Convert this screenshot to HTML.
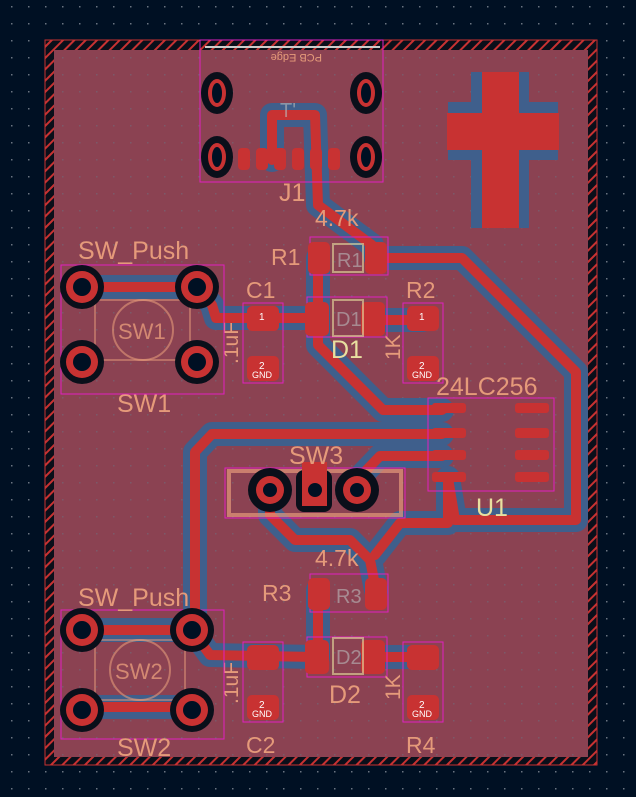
<!DOCTYPE html>
<html><head><meta charset="utf-8"><style>
html,body{margin:0;padding:0;background:#001023;}
svg{display:block}
text{font-family:"Liberation Sans",sans-serif;}
</style></head><body>
<svg width="636" height="797" viewBox="0 0 636 797" xmlns="http://www.w3.org/2000/svg">
<defs>
<pattern id="dots" width="17" height="17" patternUnits="userSpaceOnUse" x="11" y="6">
<rect x="0" y="0" width="1.5" height="1.5" fill="#6a7380"/>
</pattern>
<pattern id="hatch" width="8" height="8" patternUnits="userSpaceOnUse" patternTransform="rotate(45)">
<rect width="8" height="8" fill="#0a0f1a"/><rect width="2" height="8" fill="#c83232"/>
</pattern>
</defs>
<rect width="636" height="797" fill="#001023"/>
<rect width="636" height="797" fill="url(#dots)"/>
<rect x="45" y="40" width="552" height="725" fill="url(#hatch)" stroke="#c83232" stroke-width="1"/>
<rect x="54" y="50" width="534" height="707" fill="#8b4252"/>
<rect x="54" y="50" width="534" height="707" fill="url(#dots)" opacity="0.5"/>

<g fill="none" stroke="#3f5f8c" stroke-width="24" stroke-linejoin="round" stroke-linecap="round">
<path d="M272,160 L272,115 L315,115 L318,205 L372,245 L376,258"/>
<path d="M376,258 L462,258 L576,372 L576,520 L455,520 L448,478"/>
<path d="M318,258 L318,345 L383,410 L442,410"/>
<path d="M197,287 L212,305 L216,318 L316,318"/>
<path d="M82,287 L197,287"/>
<path d="M373,320 L422,320"/>
<path d="M442,434 L212,434 L195,452 L195,628"/>
<path d="M442,456 L380,456 L357,480 L357,490"/>
<path d="M270,490 L270,515 L295,540 L350,540 L370,560 L376,590"/>
<path d="M448,478 L448,523 L400,523 L375,555"/>
<path d="M318,590 L318,657"/>
<path d="M192,630 L210,655 L316,657"/>
<path d="M82,630 L192,630"/>
<path d="M372,657 L420,657"/>
<path d="M82,707 L192,707"/>
<path d="M500,72 L500,228 M448,131 L558,131" stroke-width="58" stroke-linecap="butt"/>
</g>
<g fill="none" stroke="#c83232" stroke-width="10" stroke-linejoin="round" stroke-linecap="round">
<path d="M272,160 L272,115 L315,115 L318,205 L372,245 L376,258"/>
<path d="M376,258 L462,258 L576,372 L576,520 L455,520 L448,478"/>
<path d="M318,258 L318,345 L383,410 L442,410"/>
<path d="M197,287 L212,305 L216,318 L316,318"/>
<path d="M82,287 L197,287"/>
<path d="M373,320 L422,320"/>
<path d="M442,434 L212,434 L195,452 L195,628"/>
<path d="M442,456 L380,456 L357,480 L357,490"/>
<path d="M270,490 L270,515 L295,540 L350,540 L370,560 L376,590"/>
<path d="M448,478 L448,523 L400,523 L375,555"/>
<path d="M318,590 L318,657"/>
<path d="M192,630 L210,655 L316,657"/>
<path d="M82,630 L192,630"/>
<path d="M372,657 L420,657"/>
<path d="M82,707 L192,707"/>
</g>
<path d="M482,72 h37 v41 h40 v37 h-40 v78 h-37 v-78 h-35 v-37 h35z" fill="#c83232"/>

<!-- J1 -->
<rect x="200" y="40" width="183" height="142" fill="none" stroke="#e020c0" stroke-width="1"/>
<line x1="205" y1="47" x2="380" y2="47" stroke="#ccc" stroke-width="2"/>
<text x="262" y="62" font-size="11" fill="#e59a7a" transform="rotate(180 292 58)">PCB Edge</text>
<g>
<ellipse cx="217" cy="93" rx="16" ry="21" fill="#0a0f1a"/><ellipse cx="217" cy="93" rx="9" ry="14" fill="#c83232"/><ellipse cx="217" cy="93" rx="5" ry="10" fill="#001023"/>
<ellipse cx="217" cy="157" rx="16" ry="21" fill="#0a0f1a"/><ellipse cx="217" cy="157" rx="9" ry="14" fill="#c83232"/><ellipse cx="217" cy="157" rx="5" ry="10" fill="#001023"/>
<ellipse cx="366" cy="93" rx="16" ry="21" fill="#0a0f1a"/><ellipse cx="366" cy="93" rx="9" ry="14" fill="#c83232"/><ellipse cx="366" cy="93" rx="5" ry="10" fill="#001023"/>
<ellipse cx="366" cy="157" rx="16" ry="21" fill="#0a0f1a"/><ellipse cx="366" cy="157" rx="9" ry="14" fill="#c83232"/><ellipse cx="366" cy="157" rx="5" ry="10" fill="#001023"/>
</g>
<g fill="#c83232">
<rect x="238" y="148" width="12" height="22" rx="4"/><rect x="256" y="148" width="12" height="22" rx="4"/><rect x="274" y="148" width="12" height="22" rx="4"/><rect x="292" y="148" width="12" height="22" rx="4"/><rect x="310" y="148" width="12" height="22" rx="4"/><rect x="328" y="148" width="12" height="22" rx="4"/>
</g>
<text x="279" y="201" font-size="25" fill="#e59a7a">J1</text>
<text x="280" y="117" font-size="20" fill="#bbb" opacity="0.6">T'</text>

<!-- R1 -->
<rect x="310" y="237" width="78" height="38" fill="none" stroke="#e020c0"/>
<rect x="308" y="242" width="22" height="32" rx="5" fill="#c83232"/><rect x="365" y="242" width="22" height="32" rx="5" fill="#c83232"/>
<rect x="333" y="244" width="30" height="28" fill="none" stroke="#e8e0a0" stroke-width="2" opacity="0.6"/>
<text x="337" y="267" font-size="20" fill="#bbb" opacity="0.6">R1</text>
<text x="271" y="265" font-size="23" fill="#e59a7a">R1</text>
<text x="315" y="226" font-size="23" fill="#e59a7a">4.7k</text>
<!-- D1 -->
<rect x="307" y="297" width="80" height="40" fill="none" stroke="#e020c0"/>
<rect x="305" y="302" width="24" height="34" rx="5" fill="#c83232"/><rect x="361" y="302" width="24" height="34" rx="5" fill="#c83232"/>
<rect x="333" y="300" width="30" height="36" fill="none" stroke="#e8e0a0" stroke-width="2" opacity="0.6"/>
<text x="336" y="326" font-size="20" fill="#bbb" opacity="0.6">D1</text>
<text x="331" y="358" font-size="25" fill="#e8e0a0">D1</text>
<!-- C1 -->
<rect x="243" y="303" width="40" height="80" fill="none" stroke="#e020c0"/>
<rect x="247" y="306" width="32" height="25" rx="5" fill="#c83232"/><rect x="247" y="356" width="32" height="25" rx="5" fill="#c83232"/>
<text x="259" y="320" font-size="10" fill="#fff">1</text><text x="259" y="369" font-size="10" fill="#fff">2</text><text x="252" y="378" font-size="9" fill="#fff">GND</text>
<text x="246" y="298" font-size="23" fill="#e59a7a">C1</text>
<text x="238" y="364" font-size="21" fill="#e59a7a" transform="rotate(-90 238 364)">.1uF</text>
<!-- R2 -->
<rect x="403" y="303" width="40" height="80" fill="none" stroke="#e020c0"/>
<rect x="407" y="306" width="32" height="25" rx="5" fill="#c83232"/><rect x="407" y="356" width="32" height="25" rx="5" fill="#c83232"/>
<text x="419" y="320" font-size="10" fill="#fff">1</text><text x="419" y="369" font-size="10" fill="#fff">2</text><text x="412" y="378" font-size="9" fill="#fff">GND</text>
<text x="406" y="298" font-size="23" fill="#e59a7a">R2</text>
<text x="400" y="360" font-size="21" fill="#e59a7a" transform="rotate(-90 400 360)">1K</text>

<!-- SW1 -->
<rect x="61" y="265" width="163" height="129" fill="none" stroke="#e020c0"/>
<circle cx="143" cy="330" r="30" fill="none" stroke="#e59a7a" stroke-width="2" opacity="0.6"/>
<rect x="95" y="300" width="95" height="60" fill="none" stroke="#e59a7a" stroke-width="2" opacity="0.5"/>
<text x="118" y="339" font-size="22" fill="#e59a7a" opacity="0.8">SW1</text>
<g>
<circle cx="82" cy="287" r="22" fill="#0a0f1a"/><circle cx="82" cy="287" r="16" fill="#c83232"/><circle cx="82" cy="287" r="9" fill="#001023"/>
<circle cx="197" cy="287" r="22" fill="#0a0f1a"/><circle cx="197" cy="287" r="16" fill="#c83232"/><circle cx="197" cy="287" r="9" fill="#001023"/>
<circle cx="82" cy="362" r="22" fill="#0a0f1a"/><circle cx="82" cy="362" r="16" fill="#c83232"/><circle cx="82" cy="362" r="9" fill="#001023"/>
<circle cx="197" cy="362" r="22" fill="#0a0f1a"/><circle cx="197" cy="362" r="16" fill="#c83232"/><circle cx="197" cy="362" r="9" fill="#001023"/>
</g>
<text x="78" y="259" font-size="25" fill="#e59a7a">SW_Push</text>
<text x="117" y="412" font-size="25" fill="#e59a7a">SW1</text>

<!-- U1 -->
<rect x="428" y="398" width="126" height="93" fill="none" stroke="#e020c0"/>
<text x="436" y="395" font-size="25" fill="#e59a7a">24LC256</text>
<g fill="#c83232">
<rect x="432" y="403" width="34" height="10" rx="3"/><rect x="432" y="428" width="34" height="10" rx="3"/><rect x="432" y="450" width="34" height="10" rx="3"/><rect x="432" y="472" width="34" height="10" rx="3"/>
<rect x="515" y="403" width="34" height="10" rx="3"/><rect x="515" y="428" width="34" height="10" rx="3"/><rect x="515" y="450" width="34" height="10" rx="3"/><rect x="515" y="472" width="34" height="10" rx="3"/>
</g>
<text x="476" y="516" font-size="25" fill="#e8e0a0">U1</text>

<!-- SW3 -->
<rect x="225" y="468" width="180" height="50" fill="none" stroke="#e020c0"/>
<rect x="229" y="471" width="172" height="44" fill="none" stroke="#e59a7a" stroke-width="4" opacity="0.7"/>
<circle cx="270" cy="490" r="22" fill="#0a0f1a"/><circle cx="270" cy="490" r="14" fill="#c83232"/><circle cx="270" cy="490" r="7" fill="#001023"/>
<rect x="296" y="470" width="36" height="42" rx="8" fill="#0a0f1a"/><rect x="302" y="462" width="25" height="44" fill="#c83232"/><circle cx="315" cy="490" r="7" fill="#001023"/>
<circle cx="357" cy="490" r="22" fill="#0a0f1a"/><circle cx="357" cy="490" r="14" fill="#c83232"/><circle cx="357" cy="490" r="7" fill="#001023"/>
<text x="289" y="464" font-size="25" fill="#e59a7a">SW3</text>

<!-- R3 -->
<rect x="310" y="574" width="78" height="38" fill="none" stroke="#e020c0"/>
<rect x="308" y="578" width="22" height="32" rx="5" fill="#c83232"/><rect x="365" y="578" width="22" height="32" rx="5" fill="#c83232"/>
<text x="336" y="603" font-size="20" fill="#bbb" opacity="0.6">R3</text>
<text x="262" y="601" font-size="23" fill="#e59a7a">R3</text>
<text x="315" y="566" font-size="23" fill="#e59a7a">4.7k</text>
<!-- D2 -->
<rect x="307" y="637" width="80" height="40" fill="none" stroke="#e020c0"/>
<rect x="305" y="640" width="24" height="34" rx="5" fill="#c83232"/><rect x="361" y="640" width="24" height="34" rx="5" fill="#c83232"/>
<rect x="333" y="638" width="30" height="36" fill="none" stroke="#e8e0a0" stroke-width="2" opacity="0.6"/>
<text x="336" y="664" font-size="20" fill="#bbb" opacity="0.6">D2</text>
<text x="329" y="703" font-size="25" fill="#e59a7a">D2</text>
<!-- C2 -->
<rect x="243" y="642" width="40" height="80" fill="none" stroke="#e020c0"/>
<rect x="247" y="645" width="32" height="25" rx="5" fill="#c83232"/><rect x="247" y="695" width="32" height="25" rx="5" fill="#c83232"/>
<text x="259" y="708" font-size="10" fill="#fff">2</text><text x="252" y="717" font-size="9" fill="#fff">GND</text>
<text x="246" y="753" font-size="23" fill="#e59a7a">C2</text>
<text x="238" y="704" font-size="21" fill="#e59a7a" transform="rotate(-90 238 704)">.1uF</text>
<!-- R4 -->
<rect x="403" y="642" width="40" height="80" fill="none" stroke="#e020c0"/>
<rect x="407" y="645" width="32" height="25" rx="5" fill="#c83232"/><rect x="407" y="695" width="32" height="25" rx="5" fill="#c83232"/>
<text x="419" y="708" font-size="10" fill="#fff">2</text><text x="412" y="717" font-size="9" fill="#fff">GND</text>
<text x="406" y="753" font-size="23" fill="#e59a7a">R4</text>
<text x="400" y="700" font-size="21" fill="#e59a7a" transform="rotate(-90 400 700)">1K</text>

<!-- SW2 -->
<rect x="61" y="610" width="163" height="129" fill="none" stroke="#e020c0"/>
<circle cx="140" cy="670" r="30" fill="none" stroke="#e59a7a" stroke-width="2" opacity="0.6"/>
<rect x="95" y="640" width="90" height="60" fill="none" stroke="#e59a7a" stroke-width="2" opacity="0.5"/>
<text x="115" y="679" font-size="22" fill="#e59a7a" opacity="0.8">SW2</text>
<g>
<circle cx="82" cy="630" r="22" fill="#0a0f1a"/><circle cx="82" cy="630" r="16" fill="#c83232"/><circle cx="82" cy="630" r="9" fill="#001023"/>
<circle cx="192" cy="630" r="22" fill="#0a0f1a"/><circle cx="192" cy="630" r="16" fill="#c83232"/><circle cx="192" cy="630" r="9" fill="#001023"/>
<circle cx="82" cy="710" r="22" fill="#0a0f1a"/><circle cx="82" cy="710" r="16" fill="#c83232"/><circle cx="82" cy="710" r="9" fill="#001023"/>
<circle cx="192" cy="710" r="22" fill="#0a0f1a"/><circle cx="192" cy="710" r="16" fill="#c83232"/><circle cx="192" cy="710" r="9" fill="#001023"/>
</g>
<text x="78" y="606" font-size="25" fill="#e59a7a">SW_Push</text>
<text x="117" y="756" font-size="25" fill="#e59a7a">SW2</text>
</svg>
</body></html>
